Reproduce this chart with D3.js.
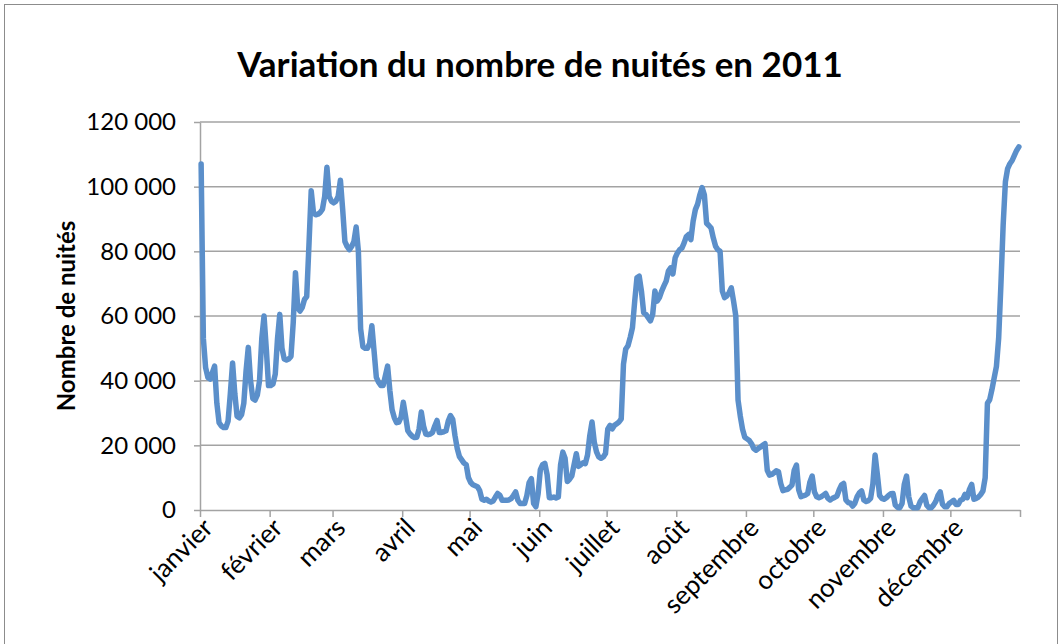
<!DOCTYPE html>
<html>
<head>
<meta charset="utf-8">
<script src="https://cdn.jsdelivr.net/npm/d3@7"></script>
<style>
  body { margin: 0; background: #fff; }
  svg { display: block; }
</style>
</head>
<body>
<div id="chart"></div>
<script>
// Nuitées par jour, un tableau par mois
const janvier = [107000, 53000, 44000, 41000, 40500, 42500, 44500, 33000, 27000, 26000, 25500, 25500, 27500, 36000, 45500, 36000, 29000, 28500, 29500, 33000, 43000, 50300, 40000, 34500, 34000, 35500, 40000, 53000, 60000, 50000, 38500];
const fevrier = [38500, 39000, 42000, 53000, 60500, 50000, 46700, 46400, 46700, 47500, 58000, 73400, 62600, 61500, 62600, 65100, 66000, 82000, 98700, 92000, 91300, 91500, 92000, 93000, 97000, 106000, 97000, 95500];
const mars = [95000, 95500, 97000, 102000, 93000, 83000, 81500, 80500, 81500, 83000, 87500, 80000, 56000, 50500, 50000, 50000, 51500, 57000, 49000, 41000, 39500, 38500, 38500, 41500, 44500, 37000, 31000, 28500, 27000, 27200, 28700];
const avril = [33300, 29000, 24500, 23500, 22800, 22400, 22500, 25000, 30300, 26000, 23500, 23300, 23500, 24000, 26000, 27700, 24000, 24000, 24200, 24500, 27500, 29200, 28000, 23000, 19000, 16500, 15500, 14500, 14000, 10000];
const mai = [8500, 7800, 7500, 7200, 6000, 3300, 3000, 3300, 2800, 2500, 2800, 4000, 5100, 4500, 3000, 3000, 3000, 3100, 3500, 4500, 5600, 3000, 2000, 2000, 2000, 4500, 8500, 9700, 2000, 1000, 5000];
const juin = [12500, 14000, 14400, 11000, 3800, 3800, 4000, 3700, 4000, 14000, 17900, 16000, 8800, 9500, 10500, 14000, 17400, 13500, 14000, 14600, 14300, 17000, 23000, 27200, 21000, 18000, 16400, 16000, 16400, 17500];
const juillet = [25000, 26200, 25100, 26200, 26700, 27200, 28200, 45100, 49800, 50800, 53400, 56400, 64600, 71800, 72300, 67700, 61000, 60500, 59500, 58500, 60500, 67700, 64600, 65700, 67700, 69300, 70800, 73900, 74900, 73000, 78000];
const aout = [79500, 80500, 81000, 82600, 84600, 85200, 83600, 89300, 92900, 94600, 97500, 99700, 97500, 88700, 88000, 87200, 84100, 81600, 80500, 80000, 67700, 65700, 66200, 67200, 68700, 64600, 60000, 34000, 29000, 25000, 22500];
const septembre = [22000, 21500, 20500, 19000, 18500, 19000, 19500, 20000, 20500, 12300, 10800, 11000, 11500, 12100, 11800, 8200, 6000, 6200, 6400, 7000, 7700, 12300, 13900, 6200, 4100, 4400, 4600, 5100, 8700, 10500];
const octobre = [5600, 4100, 3800, 4100, 4600, 5100, 3600, 3100, 3600, 3900, 4300, 6200, 7700, 8200, 3100, 2300, 2100, 1200, 2100, 4100, 5300, 5900, 3100, 2600, 2900, 3600, 8000, 17000, 11000, 4500, 3600];
const novembre = [3300, 3800, 4500, 5000, 5100, 1500, 800, 700, 2000, 8000, 10500, 4000, 1200, 700, 700, 700, 2500, 3500, 4500, 1500, 700, 700, 1500, 2600, 4500, 5600, 1800, 1000, 1000, 2000];
const decembre = [2500, 3000, 1700, 1700, 3000, 3300, 4800, 3800, 6400, 7900, 3300, 3600, 4000, 4800, 5900, 10000, 33000, 34100, 37200, 40800, 44400, 53100, 69600, 88100, 101500, 105600, 107100, 108100, 109700, 111200, 112300];

const months = [janvier, fevrier, mars, avril, mai, juin, juillet, aout, septembre, octobre, novembre, decembre];
const monthLabels = ["janvier", "février", "mars", "avril", "mai", "juin", "juillet", "août", "septembre", "octobre", "novembre", "décembre"];
const yTicks = [0, 20000, 40000, 60000, 80000, 100000, 120000];

const width = 1064;
const height = 644;
const margin = { top: 122, right: 44, bottom: 134, left: 200 };
const font = "Lato, 'Open Sans', sans-serif";

// jours consécutifs de l'année
const data = [];
months.forEach((m) => m.forEach((v) => data.push({ day: data.length, value: v })));

// début de chaque mois (en jours)
const monthStarts = [];
let acc = 0;
months.forEach((m) => { monthStarts.push(acc); acc += m.length; });
monthStarts.push(acc);

const svg = d3.select("#chart").append("svg")
    .attr("width", width)
    .attr("height", height);

// cadre du graphique
svg.append("rect")
    .attr("x", 4.5).attr("y", 4.5)
    .attr("width", 1053).attr("height", 680)
    .attr("fill", "none")
    .attr("stroke", "#8c8c8c")
    .attr("stroke-width", 1);

const x = d3.scaleLinear()
    .domain([0, acc])
    .range([margin.left, width - margin.right]);

const y = d3.scaleLinear()
    .domain([0, 120000])
    .range([height - margin.bottom, margin.top]);

const fmt = (v) => d3.format(",")(v).replace(/,/g, " ");

// quadrillage horizontal
svg.append("g")
    .selectAll("line")
    .data(yTicks.filter((t) => t > 0))
    .enter()
    .append("line")
    .attr("x1", margin.left)
    .attr("x2", width - margin.right)
    .attr("y1", (d) => y(d))
    .attr("y2", (d) => y(d))
    .attr("stroke", "#a3a3a3")
    .attr("stroke-width", 1.5);

// axe des y
const yAxis = svg.append("g")
    .attr("transform", "translate(" + margin.left + ",0)")
    .call(d3.axisLeft(y).tickValues(yTicks).tickFormat(fmt).tickSizeInner(6).tickSizeOuter(0).tickPadding(18));
yAxis.select(".domain").attr("stroke", "#a3a3a3").attr("stroke-width", 1.5);
yAxis.selectAll(".tick line").attr("stroke", "#a3a3a3").attr("stroke-width", 1.5);
yAxis.selectAll("text")
    .attr("fill", "#000")
    .style("font-family", font)
    .style("font-size", "24px");

// axe des x
const xAxis = svg.append("g")
    .attr("transform", "translate(0," + (height - margin.bottom) + ")")
    .call(d3.axisBottom(x).tickValues(monthStarts).tickFormat("").tickSizeInner(7).tickSizeOuter(0));
xAxis.select(".domain").attr("stroke", "#a3a3a3").attr("stroke-width", 1.5);
xAxis.selectAll(".tick line").attr("stroke", "#a3a3a3").attr("stroke-width", 1.5);

svg.append("g")
    .selectAll("text")
    .data(monthLabels)
    .enter()
    .append("text")
    .attr("transform", (d, i) => "translate(" + (x(monthStarts[i]) + 8) + "," + (height - margin.bottom + 13) + ") rotate(-45)")
    .attr("text-anchor", "end")
    .attr("dy", "0.35em")
    .style("font-family", font)
    .style("font-size", "26px")
    .text((d) => d);

// courbe
const line = d3.line()
    .x((d) => x(d.day + 0.5))
    .y((d) => y(d.value));

svg.append("path")
    .datum(data)
    .attr("fill", "none")
    .attr("stroke", "#5b8fca")
    .attr("stroke-width", 5.5)
    .attr("stroke-linejoin", "round")
    .attr("stroke-linecap", "round")
    .attr("d", line);

// titre
svg.append("text")
    .attr("x", 540)
    .attr("y", 77)
    .attr("text-anchor", "middle")
    .style("font-family", font)
    .style("font-weight", "bold")
    .style("font-size", "35px")
    .text("Variation du nombre de nuités en 2011");

// titre de l'axe des y
svg.append("text")
    .attr("transform", "translate(75,316) rotate(-90)")
    .attr("text-anchor", "middle")
    .style("font-family", font)
    .style("font-weight", "bold")
    .style("font-size", "24px")
    .text("Nombre de nuités");
</script>
</body>
</html>
